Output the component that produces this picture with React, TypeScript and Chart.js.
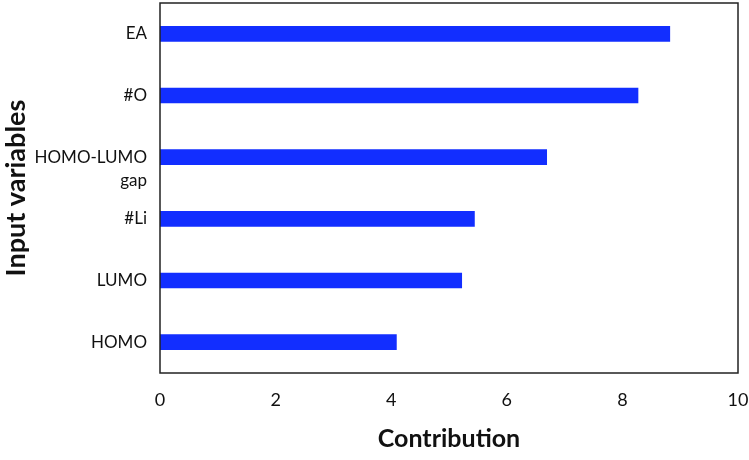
import React, { useEffect, useRef } from "react";
import { Chart, registerables } from "chart.js";

Chart.register(...registerables);

const categories: (string | string[])[] = ["EA", "#O", ["", "HOMO-LUMO", "gap"], "#Li", "LUMO", "HOMO"];
const contributions: number[] = [8.82, 8.27, 6.69, 5.44, 5.22, 4.09];
const xTicks: number[] = [0, 2, 4, 6, 8, 10];

const borderPlugin = {
  id: "plotBorder",
  afterDraw(chart: any) {
    const { ctx, chartArea } = chart;
    ctx.save();
    ctx.strokeStyle = "#222";
    ctx.lineWidth = 1.5;
    ctx.strokeRect(chartArea.left, chartArea.top, chartArea.right - chartArea.left, chartArea.bottom - chartArea.top);
    ctx.restore();
  },
};

export default function App() {
  const ref = useRef<HTMLCanvasElement | null>(null);
  useEffect(() => {
    document.body.style.margin = "0";
    if (!ref.current) return;
    const chart = new Chart(ref.current, {
      type: "bar",
      data: {
        labels: categories as any,
        datasets: [
          {
            data: contributions,
            backgroundColor: "#122EFF",
            borderWidth: 0,
            barThickness: 15,
          },
        ],
      },
      options: {
        indexAxis: "y",
        animation: false,
        responsive: false,
        maintainAspectRatio: false,
        layout: { padding: { top: 3, right: 11, left: 0, bottom: 0 } },
        plugins: {
          legend: { display: false },
          tooltip: { enabled: false },
        },
        scales: {
          x: {
            min: 0,
            max: 10,
            afterBuildTicks: (scale: any) => {
              scale.ticks = xTicks.map((v) => ({ value: v }));
            },
            afterFit: (scale: any) => {
              scale.height = 87;
              scale.paddingLeft = 0;
              scale.paddingRight = 0;
            },
            grid: { display: false, drawTicks: false },
            border: { display: false },
            ticks: {
              padding: 16,
              color: "#111",
              font: { family: "Lato", size: 18 },
              maxRotation: 0,
              autoSkip: false,
            },
            title: {
              display: true,
              text: "Contribution",
              color: "#111",
              font: { family: "Lato", size: 25, weight: "bold" },
              padding: { top: 0, bottom: 6 },
            },
          },
          y: {
            afterFit: (scale: any) => {
              scale.width = 160;
              scale.paddingTop = 0;
              scale.paddingBottom = 0;
            },
            grid: { display: false, drawTicks: false },
            border: { display: false },
            ticks: {
              padding: 13,
              color: "#111",
              autoSkip: false,
              font: { family: "Lato", size: 17, lineHeight: 1.35 },
            },
            title: {
              display: true,
              text: "Input variables",
              color: "#111",
              font: { family: "Lato", size: 27, weight: "bold" },
              padding: { top: 0, bottom: 0 },
            },
          },
        },
      },
      plugins: [borderPlugin],
    });
    return () => chart.destroy();
  }, []);
  return (
    <div style={{ width: 749, height: 460 }}>
      <canvas ref={ref} width={749} height={460} style={{ width: 749, height: 460, display: "block" }} />
    </div>
  );
}
